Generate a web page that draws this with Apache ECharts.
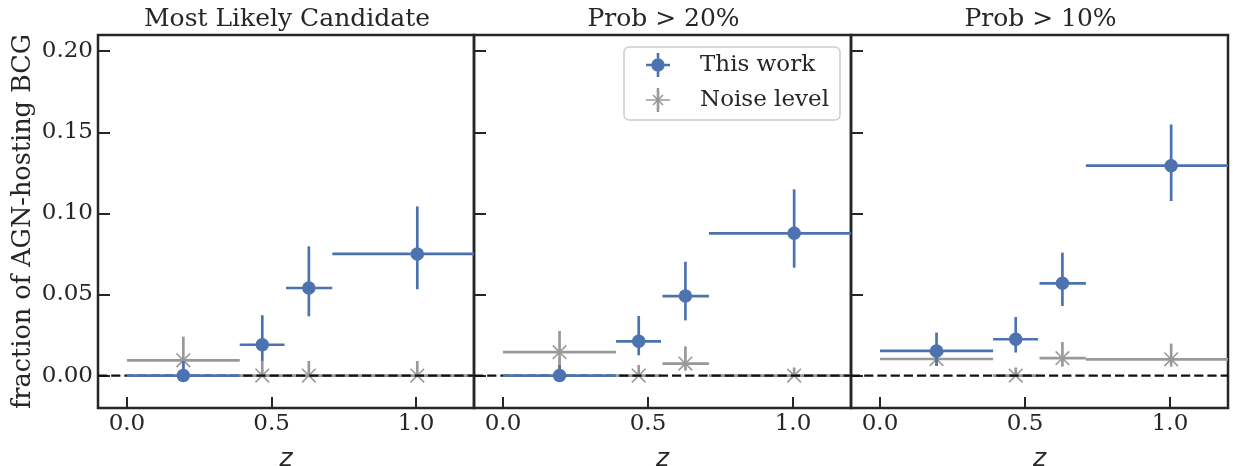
<!DOCTYPE html>
<html>
<head>
<meta charset="utf-8">
<script src="https://cdn.jsdelivr.net/npm/echarts@6/dist/echarts.min.js"></script>
<style>html,body{margin:0;padding:0;background:#fff}#c{width:1233px;height:466px}</style>
</head>
<body>
<div id="c"></div>
<script>
// ---- data ----
const panelTitles = ['Most Likely Candidate', 'Prob > 20%', 'Prob > 10%'];
const zCenter = [0.195, 0.468, 0.629, 1.004];
const zLow = [0.0, 0.39, 0.55, 0.71];
const zHigh = [0.39, 0.545, 0.71, 1.40];

const work1 = [0.0, 0.019, 0.054, 0.075];
const work1Lo = [0.0, 0.009, 0.0365, 0.0532];
const work1Hi = [0.009, 0.0372, 0.0797, 0.1043];
const noise1 = [0.0094, 0.0, 0.0, 0.0];
const noise1Lo = [0.0, 0.0, 0.0, 0.0];
const noise1Hi = [0.024, 0.009, 0.009, 0.009];

const work2 = [0.0, 0.0211, 0.049, 0.0877];
const work2Lo = [0.0, 0.0125, 0.034, 0.0665];
const work2Hi = [0.0065, 0.0367, 0.0702, 0.1148];
const noise2 = [0.0144, 0.0, 0.0074, 0.0];
const noise2Lo = [0.0, 0.0, 0.003, 0.0];
const noise2Hi = [0.0275, 0.0065, 0.018, 0.005];

const work3 = [0.0152, 0.0224, 0.0569, 0.1294];
const work3Lo = [0.006, 0.0142, 0.0429, 0.1076];
const work3Hi = [0.0265, 0.0361, 0.0758, 0.1548];
const noise3 = [0.0102, 0.0, 0.0107, 0.0100];
const noise3Lo = [0.006, 0.0, 0.0055, 0.0055];
const noise3Hi = [0.015, 0.005, 0.0207, 0.0197];

const referenceLevel = [0.0];   // horizontal dashed line at zero
const xTicks = [0, 0.5, 1.0];
const yTicks = [0, 0.05, 0.10, 0.15, 0.20];
const legendNames = ['This work', 'Noise level'];

// ---- style ----
const BLUE = '#4c72b0';
const GRAY = '#999999';
const INK = '#262626';
const FONT = 'DejaVu Serif';
const gridsPx = [[98, 474], [474, 851], [851, 1228]];

const workSets = [[work1, work1Lo, work1Hi], [work2, work2Lo, work2Hi], [work3, work3Lo, work3Hi]];
const noiseSets = [[noise1, noise1Lo, noise1Hi], [noise2, noise2Lo, noise2Hi], [noise3, noise3Lo, noise3Hi]];

function rows(vals, lo, hi) {
  return zCenter.map((z, i) => [z, vals[i], zLow[i], zHigh[i], lo[i], hi[i]]);
}

function errRender(color, cross) {
  return function (params, api) {
    const cs = params.coordSys;
    const clampX = v => Math.max(cs.x, Math.min(cs.x + cs.width, v));
    const c = api.coord([api.value(0), api.value(1)]);
    const l = api.coord([api.value(2), api.value(1)]);
    const r = api.coord([api.value(3), api.value(1)]);
    const b = api.coord([api.value(0), api.value(4)]);
    const t = api.coord([api.value(0), api.value(5)]);
    const st = { stroke: color, lineWidth: 2.7, lineCap: 'butt' };
    const ch = [
      { type: 'line', shape: { x1: clampX(l[0]), y1: c[1], x2: clampX(r[0]), y2: c[1] }, style: st },
      { type: 'line', shape: { x1: c[0], y1: b[1], x2: c[0], y2: t[1] }, style: st }
    ];
    if (cross) {
      const s = 6.8;
      const xs = { stroke: color, lineWidth: 1.6 };
      ch.push({ type: 'line', shape: { x1: c[0] - s, y1: c[1] - s, x2: c[0] + s, y2: c[1] + s }, style: xs });
      ch.push({ type: 'line', shape: { x1: c[0] - s, y1: c[1] + s, x2: c[0] + s, y2: c[1] - s }, style: xs });
    }
    return { type: 'group', children: ch };
  };
}

function hlineRender(params, api) {
  const cs = params.coordSys;
  const y = api.coord([0, api.value(0)])[1];
  return { type: 'line', shape: { x1: cs.x, y1: y, x2: cs.x + cs.width, y2: y },
    style: { stroke: '#111111', lineWidth: 2.3, lineDash: [9.2, 4] } };
}

const grids = [], xAxes = [], yAxes = [], series = [], titles = [];
for (let p = 0; p < 3; p++) {
  const [L, R] = gridsPx[p];
  grids.push({ left: L, width: R - L, top: 35, height: 373, containLabel: false, outerBoundsMode: 'none',
    show: true, borderColor: INK, borderWidth: 2.5, backgroundColor: 'transparent' });
  titles.push({ text: panelTitles[p], left: (L + R) / 2 - 4, top: 2, textAlign: 'center',
    textStyle: { fontFamily: FONT, fontSize: 25, fontWeight: 'normal', color: INK } });
  xAxes.push({
    type: 'value', gridIndex: p, min: -0.1, max: 1.2,
    name: 'z', nameLocation: 'middle', nameGap: 39,
    nameTextStyle: { fontFamily: 'DejaVu Sans', fontStyle: 'italic', fontSize: 25, color: INK },
    axisLine: { show: false, onZero: false },
    axisTick: { show: true, inside: true, length: 11, lineStyle: { color: INK, width: 2 }, customValues: xTicks },
    axisLabel: { show: true, customValues: xTicks, margin: 5, fontFamily: FONT, fontSize: 23, color: INK,
      formatter: v => v.toFixed(1) },
    splitLine: { show: false }
  });
  yAxes.push({
    type: 'value', gridIndex: p, min: -0.02, max: 0.21,
    name: p === 0 ? 'fraction of AGN-hosting BCG' : '', nameLocation: 'middle', nameGap: 62,
    nameTextStyle: { fontFamily: FONT, fontSize: 25.5, color: INK },
    axisLine: { show: false, onZero: false },
    axisTick: { show: true, inside: true, length: 12, lineStyle: { color: INK, width: 2 }, customValues: yTicks },
    axisLabel: { show: p === 0, customValues: yTicks, margin: 5, fontFamily: FONT, fontSize: 23, color: INK,
      formatter: v => v.toFixed(2) },
    splitLine: { show: false }
  });
  const [nv, nlo, nhi] = noiseSets[p];
  const [wv, wlo, whi] = workSets[p];
  series.push({
    type: 'custom', name: legendNames[1], xAxisIndex: p, yAxisIndex: p, z: 2,
    renderItem: errRender(GRAY, true), data: rows(nv, nlo, nhi),
    encode: { x: 0, y: 1 }, itemStyle: { color: GRAY }, silent: true
  });
  series.push({
    type: 'custom', xAxisIndex: p, yAxisIndex: p, z: 3, silent: true,
    renderItem: hlineRender, data: referenceLevel.map(v => [v]), encode: { y: 0 }
  });
  series.push({
    type: 'custom', name: legendNames[0], xAxisIndex: p, yAxisIndex: p, z: 6,
    renderItem: errRender(BLUE, false), data: rows(wv, wlo, whi),
    encode: { x: 0, y: 1 }, itemStyle: { color: BLUE }, silent: true
  });
  series.push({
    type: 'scatter', name: legendNames[0], xAxisIndex: p, yAxisIndex: p, z: 7,
    symbol: 'circle', symbolSize: 13.5, itemStyle: { color: BLUE, opacity: 1 },
    data: zCenter.map((z, i) => [z, wv[i]]), silent: true
  });
}

const blueIcon = 'path://M0 10.7H24V13.3H0Z M10.7 0H13.3V24H10.7Z M12 5.3A6.7 6.7 0 1 1 11.99 5.3Z';
const grayIcon = 'path://M0 11.2H24V12.8H0Z M10.7 0H13.3V24H10.7Z M7.57 6.43L17.57 16.43L16.43 17.57L6.43 7.57Z M17.57 7.57L7.57 17.57L6.43 16.43L16.43 6.43Z';

const option = {
  animation: false,
  backgroundColor: '#ffffff',
  title: titles,
  grid: grids,
  xAxis: xAxes,
  yAxis: yAxes,
  legend: {
    left: 624, top: 47, orient: 'vertical', z: 10,
    padding: [6, 11, 8, 22],
    itemWidth: 24, itemHeight: 24, itemGap: 11,
    borderColor: '#cccccc', borderWidth: 1.5, borderRadius: 5,
    backgroundColor: 'rgba(255,255,255,0.85)',
    selectedMode: false,
    textStyle: { fontFamily: FONT, fontSize: 23, color: INK, padding: [0, 0, 0, 25] },
    data: [
      { name: legendNames[0], icon: blueIcon, itemStyle: { color: BLUE } },
      { name: legendNames[1], icon: grayIcon, itemStyle: { color: GRAY } }
    ]
  },
  series: series
};

const chart = echarts.init(document.getElementById('c'), null, { renderer: 'canvas' });
chart.setOption(option);
</script>
</body>
</html>
